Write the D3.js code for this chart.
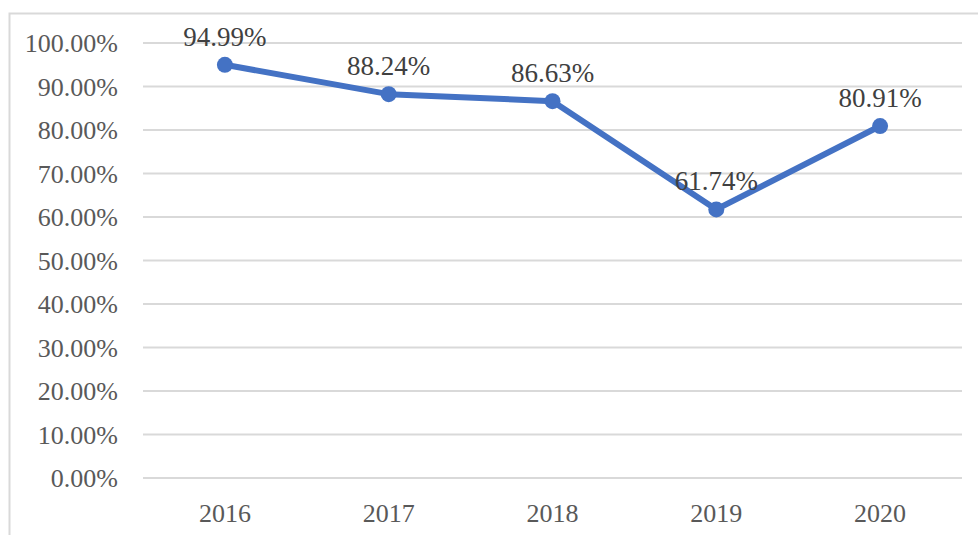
<!DOCTYPE html>
<html>
<head>
<meta charset="utf-8">
<script src="https://cdn.jsdelivr.net/npm/d3@7"></script>
<style>
  body { margin: 0; background: #fff; }
</style>
</head>
<body>
<svg id="chart"></svg>
<script>
const width = 978;
const height = 535;
const font = "'Liberation Serif', 'Times New Roman', serif";

// Chart data
const years = ["2016", "2017", "2018", "2019", "2020"];
const rates = [94.99, 88.24, 86.63, 61.74, 80.91];
const yTicks = [0, 10, 20, 30, 40, 50, 60, 70, 80, 90, 100];

const margin = { top: 43, right: 16, bottom: 57, left: 143 };

const svg = d3.select("#chart")
    .attr("width", width)
    .attr("height", height);

// Outer chart border
svg.append("rect")
    .attr("x", 9.5)
    .attr("y", 13.5)
    .attr("width", 1000)
    .attr("height", 600)
    .attr("fill", "none")
    .attr("stroke", "#d9d9d9")
    .attr("stroke-width", 2);

const x = d3.scaleBand()
    .domain(years)
    .range([margin.left, width - margin.right]);

const y = d3.scaleLinear()
    .domain([0, 100])
    .range([height - margin.bottom, margin.top]);

// Gridlines
svg.append("g")
    .selectAll("line")
    .data(yTicks)
    .enter()
    .append("line")
    .attr("x1", margin.left)
    .attr("x2", width - margin.right)
    .attr("y1", d => y(d))
    .attr("y2", d => y(d))
    .attr("stroke", "#d9d9d9")
    .attr("stroke-width", 2);

// Y axis labels
svg.append("g")
    .selectAll("text")
    .data(yTicks)
    .enter()
    .append("text")
    .attr("x", 118)
    .attr("y", d => y(d) + 9)
    .attr("text-anchor", "end")
    .attr("font-family", font)
    .attr("font-size", 26)
    .attr("fill", "#595959")
    .text(d => d.toFixed(2) + "%");

// X axis labels
svg.append("g")
    .selectAll("text")
    .data(years)
    .enter()
    .append("text")
    .attr("x", d => x(d) + x.bandwidth() / 2)
    .attr("y", height - margin.bottom + 44)
    .attr("text-anchor", "middle")
    .attr("font-family", font)
    .attr("font-size", 26)
    .attr("fill", "#595959")
    .text(d => d);

const points = years.map((yr, i) => ({ year: yr, value: rates[i] }));

const line = d3.line()
    .x(d => x(d.year) + x.bandwidth() / 2)
    .y(d => y(d.value));

svg.append("path")
    .datum(points)
    .attr("d", line)
    .attr("fill", "none")
    .attr("stroke", "#4472c4")
    .attr("stroke-width", 6)
    .attr("stroke-linejoin", "round");

svg.append("g")
    .selectAll("circle")
    .data(points)
    .enter()
    .append("circle")
    .attr("cx", d => x(d.year) + x.bandwidth() / 2)
    .attr("cy", d => y(d.value))
    .attr("r", 8)
    .attr("fill", "#4472c4");

// Data labels above points
svg.append("g")
    .selectAll("text")
    .data(points)
    .enter()
    .append("text")
    .attr("x", d => x(d.year) + x.bandwidth() / 2)
    .attr("y", d => y(d.value) - 19)
    .attr("text-anchor", "middle")
    .attr("font-family", font)
    .attr("font-size", 27)
    .attr("fill", "#404040")
    .text(d => d.value.toFixed(2) + "%");
</script>
</body>
</html>
